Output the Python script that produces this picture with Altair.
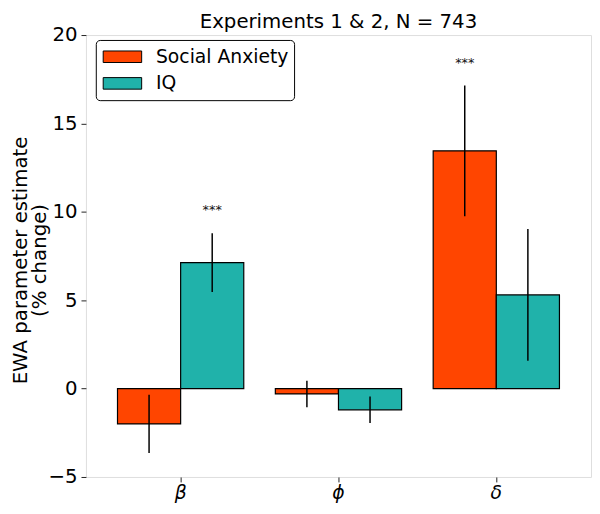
import altair as alt
import pandas as pd

categories = ["β", "ϕ", "δ"]
groups = ["Social Anxiety", "IQ"]
sa_values = [-2.0, -0.3, 13.45]
iq_values = [7.13, -1.2, 5.3]
sa_err = [1.65, 0.75, 3.7]
iq_err = [1.66, 0.75, 3.73]
sa_sig = ["", "", "***"]
iq_sig = ["***", "", ""]
colors = ["#FF4500", "#20B2AA"]

rows = []
for i, c in enumerate(categories):
    rows.append({"param": c, "group": groups[0], "value": sa_values[i],
                 "lo": sa_values[i] - sa_err[i], "hi": sa_values[i] + sa_err[i], "sig": sa_sig[i]})
    rows.append({"param": c, "group": groups[1], "value": iq_values[i],
                 "lo": iq_values[i] - iq_err[i], "hi": iq_values[i] + iq_err[i], "sig": iq_sig[i]})
df = pd.DataFrame(rows)

FONT = "DejaVu Sans"
SPINE = "#222222"

x_enc = alt.X("param:N", sort=categories, title=None,
              scale=alt.Scale(paddingInner=0.2, paddingOuter=0.2),
              axis=alt.Axis(labelAngle=0, labelFontSize=19, labelFont=FONT, labelFontStyle="italic",
                            labelColor="black", tickColor=SPINE, domain=False, tickSize=5,
                            labelPadding=2, grid=False))
xo_enc = alt.XOffset("group:N", sort=groups, scale=alt.Scale(paddingInner=0, paddingOuter=0))

bars = alt.Chart(df).mark_bar(stroke="black", strokeWidth=1.2).encode(
    x=x_enc,
    xOffset=xo_enc,
    y=alt.Y("value:Q", scale=alt.Scale(domain=[-5, 20], nice=False),
            title=["EWA parameter estimate", "(% change)"],
            axis=alt.Axis(values=[-5, 0, 5, 10, 15, 20], labelFontSize=20, labelFont=FONT,
                          labelColor="black", tickColor=SPINE, tickSize=5, labelPadding=4,
                          domain=False, grid=False, titleFont=FONT, titleFontSize=20,
                          titleFontWeight="normal", titleColor="black",
                          titleAngle=-90, titleBaseline="alphabetic", titleAlign="center",
                          titleLineHeight=19, titleX=-60, titleY=228)),
    color=alt.Color("group:N", sort=groups, scale=alt.Scale(domain=groups, range=colors),
                    legend=alt.Legend(title=None, orient="none", legendX=10, legendY=5,
                                      strokeColor="black", cornerRadius=4, padding=5,
                                      fillColor="white", labelFontSize=19, labelFont=FONT,
                                      labelColor="black",
                                      symbolType="M-1,-0.3L1,-0.3L1,0.3L-1,0.3Z",
                                      symbolSize=1521, symbolStrokeColor="black",
                                      symbolStrokeWidth=1, symbolOpacity=1, symbolOffset=2,
                                      clipHeight=24, rowPadding=3, labelOffset=14)),
)

errs = alt.Chart(df).mark_rule(color="black", strokeWidth=1.5).encode(
    x=alt.X("param:N", sort=categories),
    xOffset=xo_enc,
    y="lo:Q",
    y2="hi:Q",
)

stars = alt.Chart(df).mark_text(font=FONT, fontSize=13, color="#111111", baseline="alphabetic", dy=-19).encode(
    x=alt.X("param:N", sort=categories),
    xOffset=xo_enc,
    y="hi:Q",
    text="sig:N",
)

chart = alt.layer(bars, errs, stars).properties(
    width=512, height=448,
    title=alt.TitleParams("Experiments 1 & 2, N = 743", fontSize=20, font=FONT,
                          fontWeight="normal", color="black", offset=-7, anchor="middle"),
    padding={"left": 79, "top": 24, "right": 1, "bottom": 26},
    autosize=alt.AutoSizeParams(type="none"),
).configure_view(stroke=SPINE, strokeWidth=1).configure(background="white")

chart.save("out.html", embed_options={"renderer": "svg", "actions": False})
